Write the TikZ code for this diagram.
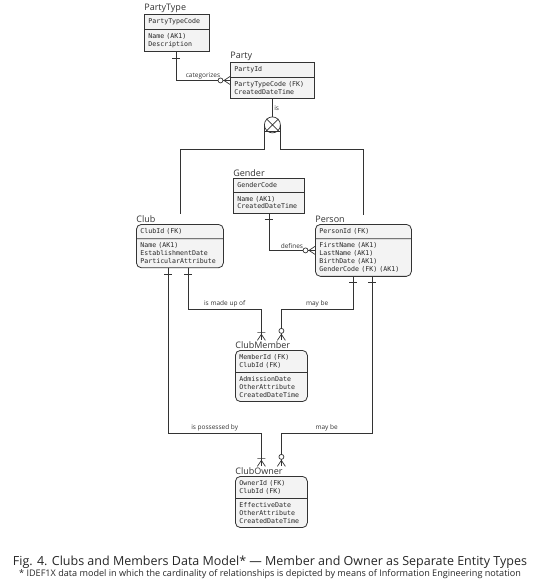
\documentclass[tikz,border=0pt]{standalone}
\usepackage{fontspec}
\setsansfont{Open Sans}
\setmonofont{DejaVu Sans Mono}
\usetikzlibrary{shapes.multipart,calc}
\definecolor{ink}{HTML}{333333}
\definecolor{boxfill}{HTML}{F3F3F3}
\tikzset{
    onemany/.pic={\draw (-4,0) -- (0,-6) -- (4,0) (-4,-8) -- (4,-8);},
    zeromany/.pic={\draw (-4,0) -- (0,-6) -- (4,0); \draw[fill=white] (0,-9.5) circle (2.5pt);}
}

\begin{document}
\begin{tikzpicture}[x=1pt,y=-1pt,line width=0.7pt,color=ink]
    \tikzstyle{entity}=[rectangle split,rectangle split parts=2,draw=ink,fill=boxfill,line width=0.8pt,
        anchor=north west,align=left,inner xsep=4pt,inner ysep=3.8pt,
        font=\ttfamily\fontsize{6.6}{7.8}\selectfont,text=black!85]
    \tikzstyle{dependent}=[entity,rounded corners=5pt]
    \tikzstyle{title}=[anchor=south west,inner xsep=0pt,inner ysep=1pt,font=\sffamily\fontsize{9}{10}\selectfont,text=black!80]
    \tikzstyle{rel}=[font=\sffamily\fontsize{6.5}{7}\selectfont,text=black!80,inner sep=1.5pt]

    \fill[white] (0,0) rectangle (540,586);
    \useasboundingbox (0,0) rectangle (540,586);

    \node[entity,text width=57pt,label={[title,name=partytype-t]north west:PartyType}] (partytype) at (144,14)
        {PartyTypeCode\nodepart{two}Name (AK1)\\Description};
    \node[entity,text width=76pt,label={[title,name=party-t]north west:Party}] (party) at (230,62)
        {PartyId\nodepart{two}PartyTypeCode (FK)\\CreatedDateTime};
    \node[entity,text width=63pt,label={[title,name=gender-t]north west:Gender}] (gender) at (233,178)
        {GenderCode\nodepart{two}Name (AK1)\\CreatedDateTime};
    \node[dependent,text width=79pt,label={[title,name=club-t]north west:Club}] (club) at (136,224)
        {ClubId (FK)\nodepart{two}Name (AK1)\\EstablishmentDate\\ParticularAttribute};
    \node[dependent,text width=88pt,label={[title,name=person-t]north west:Person}] (person) at (315,224)
        {PersonId (FK)\nodepart{two}FirstName (AK1)\\LastName (AK1)\\BirthDate (AK1)\\GenderCode (FK) (AK1)};
    \node[dependent,text width=64pt,label={[title,name=clubmember-t]north west:ClubMember}] (clubmember) at (235,350)
        {MemberId (FK)\\ClubId (FK)\nodepart{two}AdmissionDate\\OtherAttribute\\CreatedDateTime};
    \node[dependent,text width=64pt,label={[title,name=clubowner-t]north west:ClubOwner}] (clubowner) at (235,476)
        {OwnerId (FK)\\ClubId (FK)\nodepart{two}EffectiveDate\\OtherAttribute\\CreatedDateTime};

    \node[draw,circle,minimum size=16pt,inner sep=0pt] (excl) at ($(party.south)+(0,26)$) {};
    \draw (excl.north west) -- (excl.south east) (excl.north east) -- (excl.south west);
    \draw ($(excl.west)+(0,6)$) -- ($(excl.east)+(0,6)$);
    \draw (party.south) -- (excl.north) node[rel,midway,right] {is};
    \draw (excl.west) -- ++(0,24) -| (club.north |- club-t.north);
    \draw (excl.east) -- ++(0,24) -| (person.north |- person-t.north);

    \draw (176,0 |- partytype.south) |- (party.west) node[rel,above,pos=0.75] {categorizes};
    \draw (gender.south) |- (person.west) node[rel,above,pos=0.75] {defines};
    \path (party.west) pic[rotate=90] {zeromany};
    \path (person.west) pic[rotate=90] {zeromany};

    \coordinate (cm-l) at ($(clubmember.north |- clubmember-t.north)+(-10,0)$);
    \coordinate (cm-r) at ($(clubmember.north |- clubmember-t.north)+(10,0)$);
    \coordinate (co-l) at ($(clubowner.north |- clubowner-t.north)+(-10,0)$);
    \coordinate (co-r) at ($(clubowner.north |- clubowner-t.north)+(10,0)$);

    \draw (188,0 |- club.south) |- (cm-l |- 0,309) node[rel,above,pos=0.75] {is made up of} -- (cm-l);
    \draw (353,0 |- person.south) |- (cm-r |- 0,309) node[rel,above,pos=0.75] {may be} -- (cm-r);
    \draw (168,0 |- club.south) |- (co-l |- 0,433) node[rel,above,pos=0.75] {is possessed by} -- (co-l);
    \draw (372,0 |- person.south) |- (co-r |- 0,433) node[rel,above,pos=0.75] {may be} -- (co-r);

    \foreach \x/\e in {176/partytype, 268.5/gender, 168/club, 188/club, 353/person, 372/person}
        \draw ($(\x,0 |- \e.south)+(-4,6)$) -- ++(8,0);

    \path (cm-l) pic {onemany};
    \path (cm-r) pic {zeromany};
    \path (co-l) pic {onemany};
    \path (co-r) pic {zeromany};

    \node[font=\sffamily\fontsize{12.5}{14}\selectfont,text=black!85] (fig) at (270,562)
        {Fig. 4. Clubs and Members Data Model* — Member and Owner as Separate Entity Types};
    \node[font=\sffamily\fontsize{9.1}{10}\selectfont,text=black!85] (note) at (270,574)
        {* IDEF1X data model in which the cardinality of relationships is depicted by means of Information Engineering notation};
\end{tikzpicture}
\end{document}
